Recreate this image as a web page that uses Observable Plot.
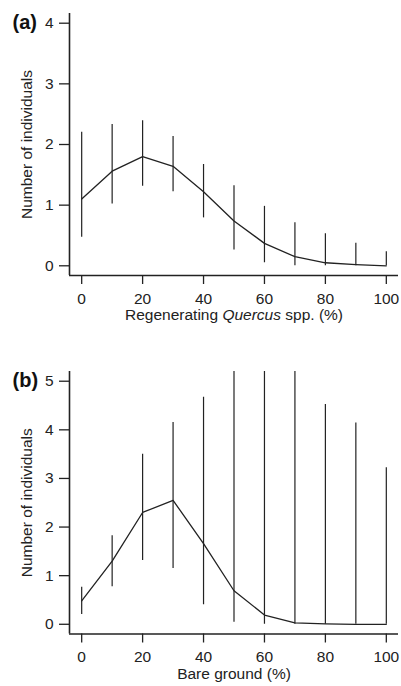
<!DOCTYPE html>
<html><head><meta charset="utf-8">
<script src="https://cdn.jsdelivr.net/npm/d3@7"></script>
<script src="https://cdn.jsdelivr.net/npm/@observablehq/plot@0.6"></script>
<style>
body{margin:0;background:#fff}
#chart{width:401px}
#chart svg{display:block}
</style>
</head><body><div id="chart"></div>
<script>
// Shared x categories (% cover)
const xValues = [0, 10, 20, 30, 40, 50, 60, 70, 80, 90, 100];
const xTicks = [0, 20, 40, 60, 80, 100];

// Panel (a): Regenerating Quercus spp.
const quercusMean  = [1.10, 1.56, 1.80, 1.64, 1.22, 0.74, 0.37, 0.15, 0.05, 0.02, 0.00];
const quercusLower = [0.47, 1.02, 1.31, 1.22, 0.79, 0.26, 0.05, 0.00, 0.00, 0.00, 0.00];
const quercusUpper = [2.20, 2.33, 2.39, 2.13, 1.67, 1.32, 0.98, 0.71, 0.53, 0.37, 0.23];
const quercusYTicks = [0, 1, 2, 3, 4];

// Panel (b): Bare ground
const bareMean  = [0.48, 1.30, 2.30, 2.55, 1.66, 0.69, 0.19, 0.03, 0.01, 0.00, 0.00];
const bareLower = [0.20, 0.77, 1.31, 1.15, 0.40, 0.04, 0.00, 0.00, 0.00, 0.00, 0.00];
const bareUpper = [0.76, 1.82, 3.50, 4.15, 4.67, 5.60, 6.10, 6.40, 4.52, 4.14, 3.22];
const bareYTicks = [0, 1, 2, 3, 4, 5];

const ink = "#222";
const font = "'Liberation Sans', Arial, Helvetica, sans-serif";
const fs = 15.5;

function panel({tag, mean, lower, upper, yTicks, yDomain, xLabel, height, marginTop, marginBottom}) {
  const rows = xValues.map((x, i) => ({x, mean: mean[i], lo: lower[i], hi: upper[i]}));
  const full = xLabel.map(d => d.t).join("");
  const svg = Plot.plot({
    width: 401,
    height,
    marginTop,
    marginBottom,
    marginLeft: 69,
    marginRight: 3,
    style: {fontFamily: font, fontSize: fs + "px", color: ink, background: "white", overflow: "visible"},
    x: {domain: [-4, 104]},
    y: {domain: yDomain},
    marks: [
      Plot.axisX({ticks: xTicks, tickFormat: d => String(d), tickSize: 9, tickPadding: 8, fontSize: fs, label: null, stroke: ink, strokeWidth: 1.3, fill: ink}),
      Plot.axisY({ticks: yTicks, tickFormat: d => String(d), tickSize: 10, tickPadding: 6, fontSize: fs, label: null, stroke: ink, strokeWidth: 1.3, fill: ink}),
      Plot.ruleY([yDomain[0]], {stroke: ink, strokeWidth: 1.6}),
      Plot.ruleX([-4], {stroke: ink, strokeWidth: 1.6}),
      Plot.ruleX(rows, {x: "x", y1: "lo", y2: "hi", stroke: ink, strokeWidth: 1.2, clip: true}),
      Plot.line(rows, {x: "x", y: "mean", stroke: ink, strokeWidth: 1.3}),
      Plot.text([tag], {frameAnchor: "top-left", lineAnchor: "middle", dx: -57, dy: 9, textAnchor: "start", fontWeight: "bold", fontSize: 20, fill: "#111"}),
      Plot.text(["Number of individuals"], {frameAnchor: "left", lineAnchor: "middle", textAnchor: "middle", dx: -42, rotate: -90, fill: ink, fontSize: fs}),
      Plot.text([full], {frameAnchor: "bottom", lineAnchor: "middle", dy: 40, fill: ink, fontSize: fs})
    ]
  });
  // italicise parts of the x-axis label
  d3.select(svg).selectAll("text").filter(function() { return this.textContent === full; }).each(function() {
    const t = d3.select(this);
    t.text(null);
    xLabel.forEach(p => t.append("tspan").attr("font-style", p.i ? "italic" : null).text(p.t));
  });
  return svg;
}

const root = document.getElementById("chart");
root.append(panel({
  tag: "(a)", mean: quercusMean, lower: quercusLower, upper: quercusUpper,
  yTicks: quercusYTicks, yDomain: [-0.16, 4.16],
  xLabel: [{t: "Regenerating "}, {t: "Quercus", i: true}, {t: " spp. (%)"}],
  height: 330, marginTop: 13, marginBottom: 55
}));
root.append(panel({
  tag: "(b)", mean: bareMean, lower: bareLower, upper: bareUpper,
  yTicks: bareYTicks, yDomain: [-0.2, 5.2],
  xLabel: [{t: "Bare ground (%)"}],
  height: 356, marginTop: 41, marginBottom: 52.5
}));
</script>
</body></html>
